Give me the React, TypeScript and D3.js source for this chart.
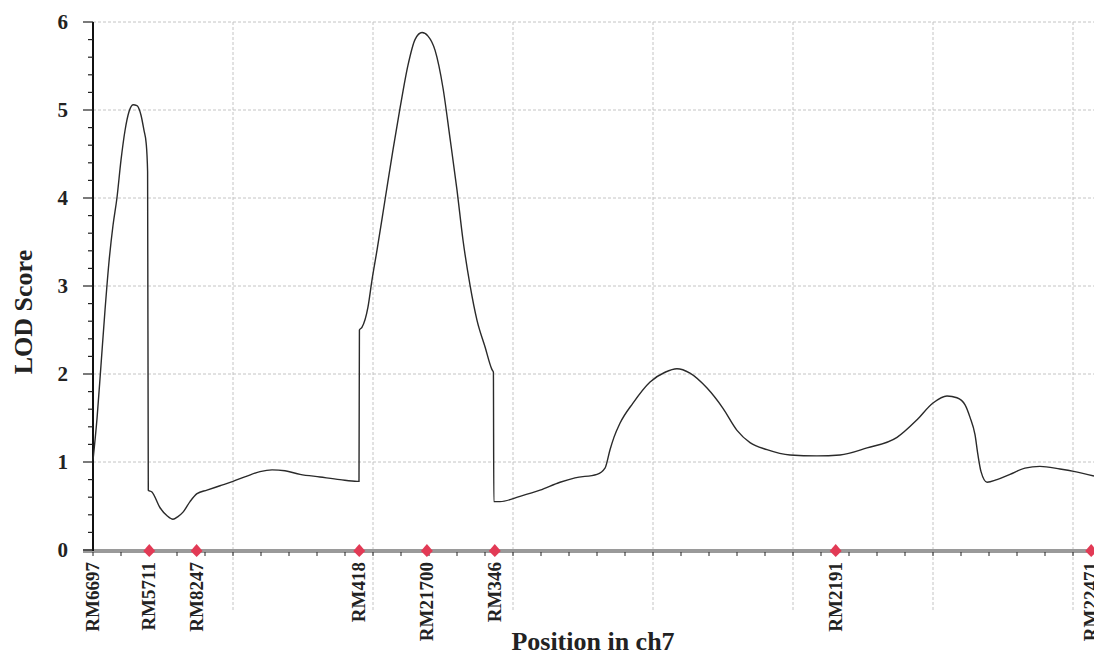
import React from "react";
import * as d3 from "d3";

const lodX = [0, 0.29, 0.57, 0.86, 1.14, 1.43, 1.71, 2.0, 2.29, 2.57, 2.86, 3.14, 3.43, 3.64, 3.8, 3.9, 3.95,
  4.21, 4.79, 5.29, 5.71, 6.07, 6.43, 6.93, 7.43, 8.14, 9.07, 10.0, 11.0, 11.93, 12.79, 13.71, 14.79, 16.21, 17.64, 18.86, 19.0,
  19.03, 19.21, 19.64, 19.93, 20.29, 20.86, 21.43, 21.93, 22.5, 23.0, 23.5, 23.93, 24.43, 25.0, 25.5, 26.0, 26.43, 26.93, 27.43, 28.0, 28.5, 28.6,
  28.63, 29.07, 30.5, 31.93, 33.36, 34.43, 36.0, 36.57, 36.93, 37.21, 37.64, 38.57, 39.79, 40.86, 41.71, 42.64, 43.86, 45.0, 46.0, 46.93,
  48.14, 49.79, 51.71, 53.36, 55.29, 57.43, 58.86, 60.0, 61.0, 61.71, 62.29, 62.64, 63.0, 63.21, 63.43, 63.86, 64.57, 65.5, 66.57, 67.64,
  69.07, 70.14, 71.5];
const lodY = [1.02, 1.5, 2.1, 2.73, 3.27, 3.69, 4.0, 4.43, 4.77, 4.98, 5.06, 5.05, 4.94, 4.77, 4.62, 4.3, 0.68,
  0.66, 0.48, 0.39, 0.35, 0.38, 0.43, 0.55, 0.64, 0.68, 0.73, 0.78, 0.84, 0.89, 0.91, 0.9, 0.86, 0.83, 0.8, 0.78, 0.78,
  2.5, 2.53, 2.76, 3.07, 3.41, 3.98, 4.55, 5.02, 5.51, 5.8, 5.88, 5.84, 5.68, 5.25, 4.68, 4.09, 3.52, 3.01, 2.61, 2.31, 2.05, 2.02,
  0.55, 0.55, 0.61, 0.68, 0.77, 0.82, 0.86, 0.93, 1.14, 1.28, 1.44, 1.67, 1.91, 2.02, 2.06, 2.01, 1.84, 1.61, 1.36, 1.22,
  1.14, 1.08, 1.07, 1.08, 1.16, 1.28, 1.48, 1.67, 1.75, 1.73, 1.65, 1.51, 1.31, 1.08, 0.89, 0.77, 0.8, 0.86, 0.93, 0.95,
  0.92, 0.89, 0.84];

const markerNames = ["RM6697", "RM5711", "RM8247", "RM418", "RM21700", "RM346", "RM2191", "RM22471"];
const markerPos = [0, 4.02, 7.4, 19.02, 23.85, 28.7, 53.05, 71.3];

const yTicks = [0, 1, 2, 3, 4, 5, 6];
const xMajor = [10, 20, 30, 40, 50, 60, 70];

const X_TITLE = "Position in ch7";
const Y_TITLE = "LOD Score";

export default function App() {
  const W = 1094, H = 657;
  const x = d3.scaleLinear().domain([0, 71.5]).range([93, 1094]);
  const y = d3.scaleLinear().domain([0, 6]).range([550, 22]);
  const data = lodX.map((v, i) => [v, lodY[i]] as [number, number]);
  const line = d3.line<[number, number]>().x(d => x(d[0])).y(d => y(d[1])).curve(d3.curveMonotoneX);
  const yMinor = d3.range(0, 6.001, 0.2);
  const xMinor = d3.range(0, 71.5, 2);
  const font = "'Liberation Serif', 'Times New Roman', serif";
  return (
    <svg width={W} height={H} style={{ position: "absolute", left: 0, top: 0, background: "#fff" }}>
      {/* horizontal grid */}
      {yTicks.filter(t => t > 0).map(t => (
        <line key={"hg" + t} x1={x(0)} x2={W} y1={y(t)} y2={y(t)} stroke="#c4c4c4" strokeWidth={1} strokeDasharray="3,2" />
      ))}
      {/* vertical grid */}
      {xMajor.map(t => (
        <line key={"vg" + t} x1={x(t)} x2={x(t)} y1={y(6)} y2={612} stroke="#c4c4c4" strokeWidth={1} strokeDasharray="3,2" />
      ))}
      {/* x axis */}
      <line x1={83} x2={W} y1={y(0) + 1} y2={y(0) + 1} stroke="#9a9a9a" strokeWidth={4} />
      {xMinor.map(t => (
        <line key={"xt" + t} x1={x(t)} x2={x(t)} y1={y(0) + 2} y2={y(0) + 6} stroke="#222" strokeWidth={1} />
      ))}
      {/* y axis */}
      <line x1={x(0)} x2={x(0)} y1={y(6)} y2={y(0) + 1} stroke="#111" strokeWidth={2} />
      {yMinor.map((t, i) => (
        <line key={"ym" + i} x1={x(0) - (i % 5 === 0 ? 10 : 5)} x2={x(0)} y1={y(t)} y2={y(t)} stroke="#222" strokeWidth={1.2} />
      ))}
      {yTicks.map(t => (
        <text key={"yl" + t} x={68} y={y(t)} dy="0.35em" textAnchor="end" fontFamily={font} fontWeight="bold" fontSize={21} fill="#222">{t}</text>
      ))}
      {/* curve */}
      <path d={line(data) || ""} fill="none" stroke="#2a2a2a" strokeWidth={1.4} />
      {/* markers */}
      {markerPos.map((p, i) => (
        <g key={"m" + i}>
          {i > 0 && (
            <path d={`M${x(p)},${y(0) - 6} L${x(p) + 6},${y(0) + 1} L${x(p)},${y(0) + 7} L${x(p) - 6},${y(0) + 1} Z`} fill="#e23a55" />
          )}
          <text transform={`translate(${x(p) + 6},${y(0) + 12}) rotate(-90)`} textAnchor="end" fontFamily={font} fontWeight="bold" fontSize={19} fill="#222">{markerNames[i]}</text>
        </g>
      ))}
      {/* titles */}
      <text x={593} y={650} textAnchor="middle" fontFamily={font} fontWeight="bold" fontSize={26} fill="#222">{X_TITLE}</text>
      <text transform={`translate(32,312) rotate(-90)`} textAnchor="middle" fontFamily={font} fontWeight="bold" fontSize={26} fill="#222">{Y_TITLE}</text>
    </svg>
  );
}
